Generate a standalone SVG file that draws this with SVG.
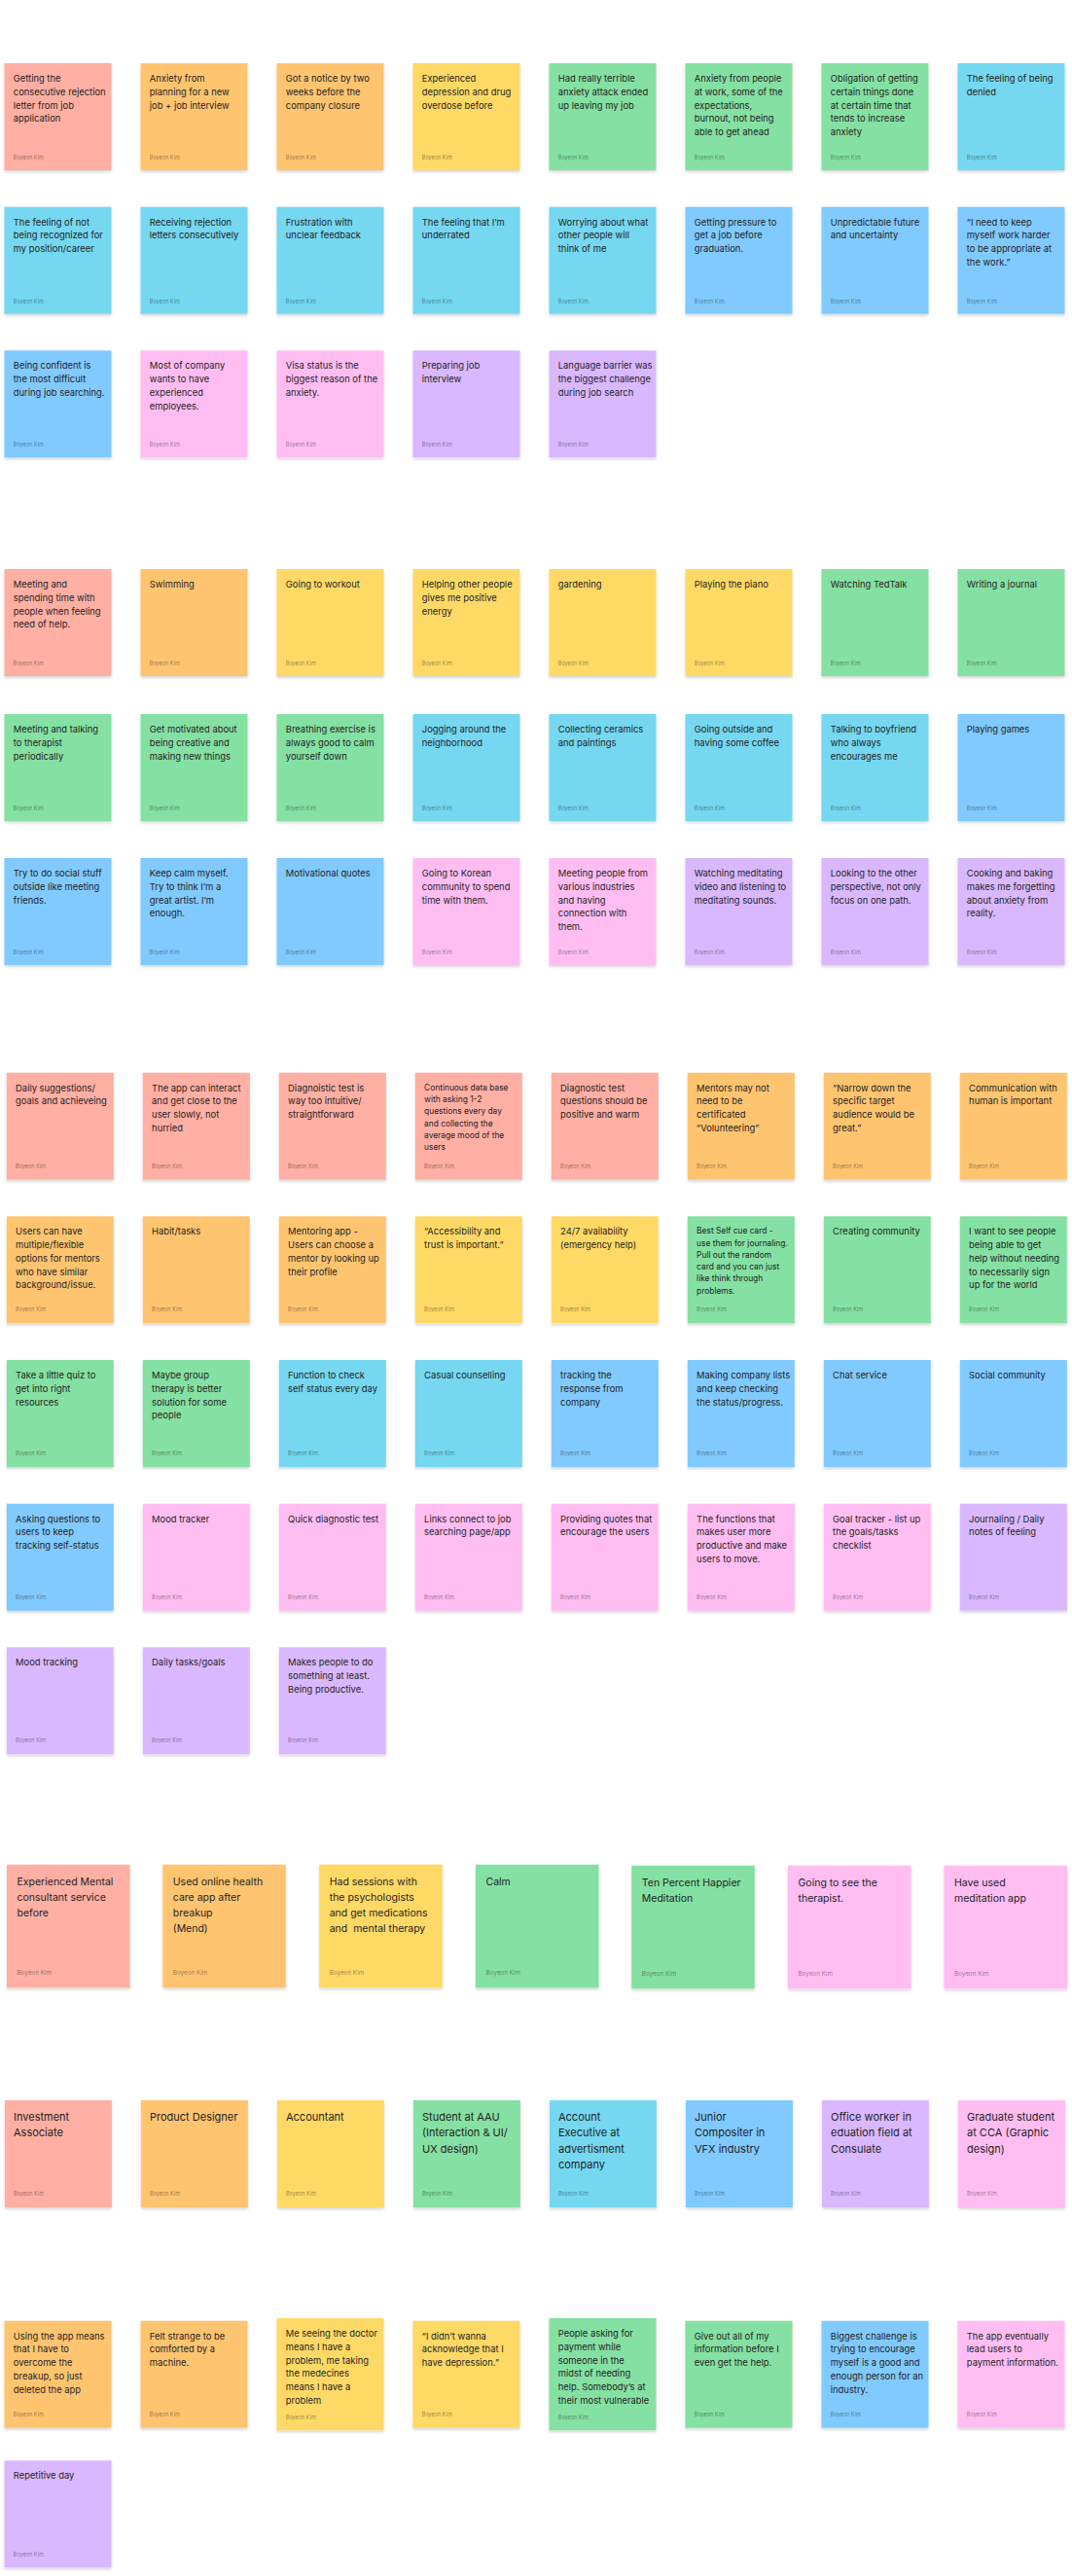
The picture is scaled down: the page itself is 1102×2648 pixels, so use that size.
<svg xmlns="http://www.w3.org/2000/svg" width="1102" height="2648" viewBox="0 0 1102 2648">
<defs>
<filter id="sh" x="-10%" y="-10%" width="120%" height="125%">
<feDropShadow dx="0" dy="2" stdDeviation="1.8" flood-color="#000" flood-opacity="0.16"/>
</filter>
</defs>
<style>
rect{filter:url(#sh)}
.r{fill:#FFAFA3}.o{fill:#FFC470}.y{fill:#FFD966}.g{fill:#85E0A3}.c{fill:#75D7F0}.b{fill:#80CAFF}.v{fill:#D9B8FF}.p{fill:#FFBDF2}
.t{font-family:Inter,"Liberation Sans",sans-serif;font-size:9.4px;fill:#1e1e1e}
.ts{font-family:Inter,"Liberation Sans",sans-serif;font-size:8.4px;fill:#1e1e1e}
.tl{font-family:Inter,"Liberation Sans",sans-serif;font-size:10.5px;fill:#1e1e1e}
.tm{font-family:Inter,"Liberation Sans",sans-serif;font-size:11px;fill:#1e1e1e}
.a{font-family:Inter,"Liberation Sans",sans-serif;font-size:5.5px;fill:#000;fill-opacity:.45}
.al{font-family:Inter,"Liberation Sans",sans-serif;font-size:6.3px;fill:#000;fill-opacity:.45}
</style>
<rect x="0" y="0" width="1102" height="2648" fill="#fff" style="filter:none"/>

<!-- Section 1 -->
<g id="s1-n01" transform="translate(4.5 65)"><rect class="r" width="110" height="110"/><text class="t" y="19"><tspan x="9.3">Getting the</tspan><tspan x="9.3" dy="13.8">consecutive rejection</tspan><tspan x="9.3" dy="13.8">letter from job</tspan><tspan x="9.3" dy="13.8">application</tspan></text><text class="a" x="9.3" y="99">Boyeon Kim</text></g>
<g id="s1-n02" transform="translate(144.5 65)"><rect class="o" width="110" height="110"/><text class="t" y="19"><tspan x="9.3">Anxiety from</tspan><tspan x="9.3" dy="13.8">planning for a new</tspan><tspan x="9.3" dy="13.8">job + job interview</tspan></text><text class="a" x="9.3" y="99">Boyeon Kim</text></g>
<g id="s1-n03" transform="translate(284.5 65)"><rect class="o" width="110" height="110"/><text class="t" y="19"><tspan x="9.3">Got a notice by two</tspan><tspan x="9.3" dy="13.8">weeks before the</tspan><tspan x="9.3" dy="13.8">company closure</tspan></text><text class="a" x="9.3" y="99">Boyeon Kim</text></g>
<g id="s1-n04" transform="translate(424.5 65)"><rect class="y" width="110" height="110"/><text class="t" y="19"><tspan x="9.3">Experienced</tspan><tspan x="9.3" dy="13.8">depression and drug</tspan><tspan x="9.3" dy="13.8">overdose before</tspan></text><text class="a" x="9.3" y="99">Boyeon Kim</text></g>
<g id="s1-n05" transform="translate(564.5 65)"><rect class="g" width="110" height="110"/><text class="t" y="19"><tspan x="9.3">Had really terrible</tspan><tspan x="9.3" dy="13.8">anxiety attack ended</tspan><tspan x="9.3" dy="13.8">up leaving my job</tspan></text><text class="a" x="9.3" y="99">Boyeon Kim</text></g>
<g id="s1-n06" transform="translate(704.5 65)"><rect class="g" width="110" height="110"/><text class="t" y="19"><tspan x="9.3">Anxiety from people</tspan><tspan x="9.3" dy="13.8">at work, some of the</tspan><tspan x="9.3" dy="13.8">expectations,</tspan><tspan x="9.3" dy="13.8">burnout, not being</tspan><tspan x="9.3" dy="13.8">able to get ahead</tspan></text><text class="a" x="9.3" y="99">Boyeon Kim</text></g>
<g id="s1-n07" transform="translate(844.5 65)"><rect class="g" width="110" height="110"/><text class="t" y="19"><tspan x="9.3">Obligation of getting</tspan><tspan x="9.3" dy="13.8">certain things done</tspan><tspan x="9.3" dy="13.8">at certain time that</tspan><tspan x="9.3" dy="13.8">tends to increase</tspan><tspan x="9.3" dy="13.8">anxiety</tspan></text><text class="a" x="9.3" y="99">Boyeon Kim</text></g>
<g id="s1-n08" transform="translate(984.5 65)"><rect class="c" width="110" height="110"/><text class="t" y="19"><tspan x="9.3">The feeling of being</tspan><tspan x="9.3" dy="13.8">denied</tspan></text><text class="a" x="9.3" y="99">Boyeon Kim</text></g>

<g id="s1-n09" transform="translate(4.5 212.7)"><rect class="c" width="110" height="110"/><text class="t" y="19"><tspan x="9.3">The feeling of not</tspan><tspan x="9.3" dy="13.8">being recognized for</tspan><tspan x="9.3" dy="13.8">my position/career</tspan></text><text class="a" x="9.3" y="99">Boyeon Kim</text></g>
<g id="s1-n10" transform="translate(144.5 212.7)"><rect class="c" width="110" height="110"/><text class="t" y="19"><tspan x="9.3">Receiving rejection</tspan><tspan x="9.3" dy="13.8">letters consecutively</tspan></text><text class="a" x="9.3" y="99">Boyeon Kim</text></g>
<g id="s1-n11" transform="translate(284.5 212.7)"><rect class="c" width="110" height="110"/><text class="t" y="19"><tspan x="9.3">Frustration with</tspan><tspan x="9.3" dy="13.8">unclear feedback</tspan></text><text class="a" x="9.3" y="99">Boyeon Kim</text></g>
<g id="s1-n12" transform="translate(424.5 212.7)"><rect class="c" width="110" height="110"/><text class="t" y="19"><tspan x="9.3">The feeling that I’m</tspan><tspan x="9.3" dy="13.8">underrated</tspan></text><text class="a" x="9.3" y="99">Boyeon Kim</text></g>
<g id="s1-n13" transform="translate(564.5 212.7)"><rect class="c" width="110" height="110"/><text class="t" y="19"><tspan x="9.3">Worrying about what</tspan><tspan x="9.3" dy="13.8">other people will</tspan><tspan x="9.3" dy="13.8">think of me</tspan></text><text class="a" x="9.3" y="99">Boyeon Kim</text></g>
<g id="s1-n14" transform="translate(704.5 212.7)"><rect class="b" width="110" height="110"/><text class="t" y="19"><tspan x="9.3">Getting pressure to</tspan><tspan x="9.3" dy="13.8">get a job before</tspan><tspan x="9.3" dy="13.8">graduation.</tspan></text><text class="a" x="9.3" y="99">Boyeon Kim</text></g>
<g id="s1-n15" transform="translate(844.5 212.7)"><rect class="b" width="110" height="110"/><text class="t" y="19"><tspan x="9.3">Unpredictable future</tspan><tspan x="9.3" dy="13.8">and uncertainty</tspan></text><text class="a" x="9.3" y="99">Boyeon Kim</text></g>
<g id="s1-n16" transform="translate(984.5 212.7)"><rect class="b" width="110" height="110"/><text class="t" y="19"><tspan x="9.3">“I need to keep</tspan><tspan x="9.3" dy="13.8">myself work harder</tspan><tspan x="9.3" dy="13.8">to be appropriate at</tspan><tspan x="9.3" dy="13.8">the work.”</tspan></text><text class="a" x="9.3" y="99">Boyeon Kim</text></g>

<g id="s1-n17" transform="translate(4.5 360.3)"><rect class="b" width="110" height="110"/><text class="t" y="19"><tspan x="9.3">Being confident is</tspan><tspan x="9.3" dy="13.8">the most difficult</tspan><tspan x="9.3" dy="13.8">during job searching.</tspan></text><text class="a" x="9.3" y="99">Boyeon Kim</text></g>
<g id="s1-n18" transform="translate(144.5 360.3)"><rect class="p" width="110" height="110"/><text class="t" y="19"><tspan x="9.3">Most of company</tspan><tspan x="9.3" dy="13.8">wants to have</tspan><tspan x="9.3" dy="13.8">experienced</tspan><tspan x="9.3" dy="13.8">employees.</tspan></text><text class="a" x="9.3" y="99">Boyeon Kim</text></g>
<g id="s1-n19" transform="translate(284.5 360.3)"><rect class="p" width="110" height="110"/><text class="t" y="19"><tspan x="9.3">Visa status is the</tspan><tspan x="9.3" dy="13.8">biggest reason of the</tspan><tspan x="9.3" dy="13.8">anxiety.</tspan></text><text class="a" x="9.3" y="99">Boyeon Kim</text></g>
<g id="s1-n20" transform="translate(424.5 360.3)"><rect class="v" width="110" height="110"/><text class="t" y="19"><tspan x="9.3">Preparing job</tspan><tspan x="9.3" dy="13.8">interview</tspan></text><text class="a" x="9.3" y="99">Boyeon Kim</text></g>
<g id="s1-n21" transform="translate(564.5 360.3)"><rect class="v" width="110" height="110"/><text class="t" y="19"><tspan x="9.3">Language barrier was</tspan><tspan x="9.3" dy="13.8">the biggest challenge</tspan><tspan x="9.3" dy="13.8">during job search</tspan></text><text class="a" x="9.3" y="99">Boyeon Kim</text></g>

<!-- Section 2 -->
<g id="s2-n01" transform="translate(4.5 585)"><rect class="r" width="110" height="110"/><text class="t" y="19"><tspan x="9.3">Meeting and</tspan><tspan x="9.3" dy="13.8">spending time with</tspan><tspan x="9.3" dy="13.8">people when feeling</tspan><tspan x="9.3" dy="13.8">need of help.</tspan></text><text class="a" x="9.3" y="99">Boyeon Kim</text></g>
<g id="s2-n02" transform="translate(144.5 585)"><rect class="o" width="110" height="110"/><text class="t" y="19"><tspan x="9.3">Swimming</tspan></text><text class="a" x="9.3" y="99">Boyeon Kim</text></g>
<g id="s2-n03" transform="translate(284.5 585)"><rect class="y" width="110" height="110"/><text class="t" y="19"><tspan x="9.3">Going to workout</tspan></text><text class="a" x="9.3" y="99">Boyeon Kim</text></g>
<g id="s2-n04" transform="translate(424.5 585)"><rect class="y" width="110" height="110"/><text class="t" y="19"><tspan x="9.3">Helping other people</tspan><tspan x="9.3" dy="13.8">gives me positive</tspan><tspan x="9.3" dy="13.8">energy</tspan></text><text class="a" x="9.3" y="99">Boyeon Kim</text></g>
<g id="s2-n05" transform="translate(564.5 585)"><rect class="y" width="110" height="110"/><text class="t" y="19"><tspan x="9.3">gardening</tspan></text><text class="a" x="9.3" y="99">Boyeon Kim</text></g>
<g id="s2-n06" transform="translate(704.5 585)"><rect class="y" width="110" height="110"/><text class="t" y="19"><tspan x="9.3">Playing the piano</tspan></text><text class="a" x="9.3" y="99">Boyeon Kim</text></g>
<g id="s2-n07" transform="translate(844.5 585)"><rect class="g" width="110" height="110"/><text class="t" y="19"><tspan x="9.3">Watching TedTalk</tspan></text><text class="a" x="9.3" y="99">Boyeon Kim</text></g>
<g id="s2-n08" transform="translate(984.5 585)"><rect class="g" width="110" height="110"/><text class="t" y="19"><tspan x="9.3">Writing a journal</tspan></text><text class="a" x="9.3" y="99">Boyeon Kim</text></g>

<g id="s2-n09" transform="translate(4.5 734)"><rect class="g" width="110" height="110"/><text class="t" y="19"><tspan x="9.3">Meeting and talking</tspan><tspan x="9.3" dy="13.8">to therapist</tspan><tspan x="9.3" dy="13.8">periodically</tspan></text><text class="a" x="9.3" y="99">Boyeon Kim</text></g>
<g id="s2-n10" transform="translate(144.5 734)"><rect class="g" width="110" height="110"/><text class="t" y="19"><tspan x="9.3">Get motivated about</tspan><tspan x="9.3" dy="13.8">being creative and</tspan><tspan x="9.3" dy="13.8">making new things</tspan></text><text class="a" x="9.3" y="99">Boyeon Kim</text></g>
<g id="s2-n11" transform="translate(284.5 734)"><rect class="g" width="110" height="110"/><text class="t" y="19"><tspan x="9.3">Breathing exercise is</tspan><tspan x="9.3" dy="13.8">always good to calm</tspan><tspan x="9.3" dy="13.8">yourself down</tspan></text><text class="a" x="9.3" y="99">Boyeon Kim</text></g>
<g id="s2-n12" transform="translate(424.5 734)"><rect class="c" width="110" height="110"/><text class="t" y="19"><tspan x="9.3">Jogging around the</tspan><tspan x="9.3" dy="13.8">neighborhood</tspan></text><text class="a" x="9.3" y="99">Boyeon Kim</text></g>
<g id="s2-n13" transform="translate(564.5 734)"><rect class="c" width="110" height="110"/><text class="t" y="19"><tspan x="9.3">Collecting ceramics</tspan><tspan x="9.3" dy="13.8">and paintings</tspan></text><text class="a" x="9.3" y="99">Boyeon Kim</text></g>
<g id="s2-n14" transform="translate(704.5 734)"><rect class="c" width="110" height="110"/><text class="t" y="19"><tspan x="9.3">Going outside and</tspan><tspan x="9.3" dy="13.8">having some coffee</tspan></text><text class="a" x="9.3" y="99">Boyeon Kim</text></g>
<g id="s2-n15" transform="translate(844.5 734)"><rect class="c" width="110" height="110"/><text class="t" y="19"><tspan x="9.3">Talking to boyfriend</tspan><tspan x="9.3" dy="13.8">who always</tspan><tspan x="9.3" dy="13.8">encourages me</tspan></text><text class="a" x="9.3" y="99">Boyeon Kim</text></g>
<g id="s2-n16" transform="translate(984.5 734)"><rect class="b" width="110" height="110"/><text class="t" y="19"><tspan x="9.3">Playing games</tspan></text><text class="a" x="9.3" y="99">Boyeon Kim</text></g>

<g id="s2-n17" transform="translate(4.5 882)"><rect class="b" width="110" height="110"/><text class="t" y="19"><tspan x="9.3">Try to do social stuff</tspan><tspan x="9.3" dy="13.8">outside like meeting</tspan><tspan x="9.3" dy="13.8">friends.</tspan></text><text class="a" x="9.3" y="99">Boyeon Kim</text></g>
<g id="s2-n18" transform="translate(144.5 882)"><rect class="b" width="110" height="110"/><text class="t" y="19"><tspan x="9.3">Keep calm myself.</tspan><tspan x="9.3" dy="13.8">Try to think I’m a</tspan><tspan x="9.3" dy="13.8">great artist. I’m</tspan><tspan x="9.3" dy="13.8">enough.</tspan></text><text class="a" x="9.3" y="99">Boyeon Kim</text></g>
<g id="s2-n19" transform="translate(284.5 882)"><rect class="b" width="110" height="110"/><text class="t" y="19"><tspan x="9.3">Motivational quotes</tspan></text><text class="a" x="9.3" y="99">Boyeon Kim</text></g>
<g id="s2-n20" transform="translate(424.5 882)"><rect class="p" width="110" height="110"/><text class="t" y="19"><tspan x="9.3">Going to Korean</tspan><tspan x="9.3" dy="13.8">community to spend</tspan><tspan x="9.3" dy="13.8">time with them.</tspan></text><text class="a" x="9.3" y="99">Boyeon Kim</text></g>
<g id="s2-n21" transform="translate(564.5 882)"><rect class="p" width="110" height="110"/><text class="t" y="19"><tspan x="9.3">Meeting people from</tspan><tspan x="9.3" dy="13.8">various industries</tspan><tspan x="9.3" dy="13.8">and having</tspan><tspan x="9.3" dy="13.8">connection with</tspan><tspan x="9.3" dy="13.8">them.</tspan></text><text class="a" x="9.3" y="99">Boyeon Kim</text></g>
<g id="s2-n22" transform="translate(704.5 882)"><rect class="v" width="110" height="110"/><text class="t" y="19"><tspan x="9.3">Watching meditating</tspan><tspan x="9.3" dy="13.8">video and listening to</tspan><tspan x="9.3" dy="13.8">meditating sounds.</tspan></text><text class="a" x="9.3" y="99">Boyeon Kim</text></g>
<g id="s2-n23" transform="translate(844.5 882)"><rect class="v" width="110" height="110"/><text class="t" y="19"><tspan x="9.3">Looking to the other</tspan><tspan x="9.3" dy="13.8">perspective, not only</tspan><tspan x="9.3" dy="13.8">focus on one path.</tspan></text><text class="a" x="9.3" y="99">Boyeon Kim</text></g>
<g id="s2-n24" transform="translate(984.5 882)"><rect class="v" width="110" height="110"/><text class="t" y="19"><tspan x="9.3">Cooking and baking</tspan><tspan x="9.3" dy="13.8">makes me forgetting</tspan><tspan x="9.3" dy="13.8">about anxiety from</tspan><tspan x="9.3" dy="13.8">reality.</tspan></text><text class="a" x="9.3" y="99">Boyeon Kim</text></g>

<!-- Section 3 -->
<g id="s3-n01" transform="translate(6.8 1102.7)"><rect class="r" width="110" height="110"/><text class="t" y="19"><tspan x="9.3">Daily suggestions/</tspan><tspan x="9.3" dy="13.8">goals and achieveing</tspan></text><text class="a" x="9.3" y="98">Boyeon Kim</text></g>
<g id="s3-n02" transform="translate(146.8 1102.7)"><rect class="r" width="110" height="110"/><text class="t" y="19"><tspan x="9.3">The app can interact</tspan><tspan x="9.3" dy="13.8">and get close to the</tspan><tspan x="9.3" dy="13.8">user slowly, not</tspan><tspan x="9.3" dy="13.8">hurried</tspan></text><text class="a" x="9.3" y="98">Boyeon Kim</text></g>
<g id="s3-n03" transform="translate(286.8 1102.7)"><rect class="r" width="110" height="110"/><text class="t" y="19"><tspan x="9.3">Diagnoistic test is</tspan><tspan x="9.3" dy="13.8">way too intuitive/</tspan><tspan x="9.3" dy="13.8">straightforward</tspan></text><text class="a" x="9.3" y="98">Boyeon Kim</text></g>
<g id="s3-n04" transform="translate(426.8 1102.7)"><rect class="r" width="110" height="110"/><text class="ts" y="18"><tspan x="9.3">Continuous data base</tspan><tspan x="9.3" dy="12.3">with asking 1-2</tspan><tspan x="9.3" dy="12.3">questions every day</tspan><tspan x="9.3" dy="12.3">and collecting the</tspan><tspan x="9.3" dy="12.3">average mood of the</tspan><tspan x="9.3" dy="12.3">users</tspan></text><text class="a" x="9.3" y="98">Boyeon Kim</text></g>
<g id="s3-n05" transform="translate(566.8 1102.7)"><rect class="r" width="110" height="110"/><text class="t" y="19"><tspan x="9.3">Diagnostic test</tspan><tspan x="9.3" dy="13.8">questions should be</tspan><tspan x="9.3" dy="13.8">positive and warm</tspan></text><text class="a" x="9.3" y="98">Boyeon Kim</text></g>
<g id="s3-n06" transform="translate(706.8 1102.7)"><rect class="o" width="110" height="110"/><text class="t" y="19"><tspan x="9.3">Mentors may not</tspan><tspan x="9.3" dy="13.8">need to be</tspan><tspan x="9.3" dy="13.8">certificated</tspan><tspan x="9.3" dy="13.8">“Volunteering”</tspan></text><text class="a" x="9.3" y="98">Boyeon Kim</text></g>
<g id="s3-n07" transform="translate(846.8 1102.7)"><rect class="o" width="110" height="110"/><text class="t" y="19"><tspan x="9.3">“Narrow down the</tspan><tspan x="9.3" dy="13.8">specific target</tspan><tspan x="9.3" dy="13.8">audience would be</tspan><tspan x="9.3" dy="13.8">great.”</tspan></text><text class="a" x="9.3" y="98">Boyeon Kim</text></g>
<g id="s3-n08" transform="translate(986.8 1102.7)"><rect class="o" width="110" height="110"/><text class="t" y="19"><tspan x="9.3">Communication with</tspan><tspan x="9.3" dy="13.8">human is important</tspan></text><text class="a" x="9.3" y="98">Boyeon Kim</text></g>

<g id="s3-n09" transform="translate(6.8 1250.3)"><rect class="o" width="110" height="110"/><text class="t" y="19"><tspan x="9.3">Users can have</tspan><tspan x="9.3" dy="13.8">multiple/flexible</tspan><tspan x="9.3" dy="13.8">options for mentors</tspan><tspan x="9.3" dy="13.8">who have similar</tspan><tspan x="9.3" dy="13.8">background/issue.</tspan></text><text class="a" x="9.3" y="98">Boyeon Kim</text></g>
<g id="s3-n10" transform="translate(146.8 1250.3)"><rect class="o" width="110" height="110"/><text class="t" y="19"><tspan x="9.3">Habit/tasks</tspan></text><text class="a" x="9.3" y="98">Boyeon Kim</text></g>
<g id="s3-n11" transform="translate(286.8 1250.3)"><rect class="o" width="110" height="110"/><text class="t" y="19"><tspan x="9.3">Mentoring app -</tspan><tspan x="9.3" dy="13.8">Users can choose a</tspan><tspan x="9.3" dy="13.8">mentor by looking up</tspan><tspan x="9.3" dy="13.8">their profile</tspan></text><text class="a" x="9.3" y="98">Boyeon Kim</text></g>
<g id="s3-n12" transform="translate(426.8 1250.3)"><rect class="y" width="110" height="110"/><text class="t" y="19"><tspan x="9.3">“Accessibility and</tspan><tspan x="9.3" dy="13.8">trust is important.”</tspan></text><text class="a" x="9.3" y="98">Boyeon Kim</text></g>
<g id="s3-n13" transform="translate(566.8 1250.3)"><rect class="y" width="110" height="110"/><text class="t" y="19"><tspan x="9.3">24/7 availability</tspan><tspan x="9.3" dy="13.8">(emergency help)</tspan></text><text class="a" x="9.3" y="98">Boyeon Kim</text></g>
<g id="s3-n14" transform="translate(706.8 1250.3)"><rect class="g" width="110" height="110"/><text class="ts" y="18"><tspan x="9.3">Best Self cue card -</tspan><tspan x="9.3" dy="12.3">use them for journaling.</tspan><tspan x="9.3" dy="12.3">Pull out the random</tspan><tspan x="9.3" dy="12.3">card and you can just</tspan><tspan x="9.3" dy="12.3">like think through</tspan><tspan x="9.3" dy="12.3">problems.</tspan></text><text class="a" x="9.3" y="98">Boyeon Kim</text></g>
<g id="s3-n15" transform="translate(846.8 1250.3)"><rect class="g" width="110" height="110"/><text class="t" y="19"><tspan x="9.3">Creating community</tspan></text><text class="a" x="9.3" y="98">Boyeon Kim</text></g>
<g id="s3-n16" transform="translate(986.8 1250.3)"><rect class="g" width="110" height="110"/><text class="t" y="19"><tspan x="9.3">I want to see people</tspan><tspan x="9.3" dy="13.8">being able to get</tspan><tspan x="9.3" dy="13.8">help without needing</tspan><tspan x="9.3" dy="13.8">to necessarily sign</tspan><tspan x="9.3" dy="13.8">up for the world</tspan></text><text class="a" x="9.3" y="98">Boyeon Kim</text></g>

<g id="s3-n17" transform="translate(6.8 1398)"><rect class="g" width="110" height="110"/><text class="t" y="19"><tspan x="9.3">Take a little quiz to</tspan><tspan x="9.3" dy="13.8">get into right</tspan><tspan x="9.3" dy="13.8">resources</tspan></text><text class="a" x="9.3" y="98">Boyeon Kim</text></g>
<g id="s3-n18" transform="translate(146.8 1398)"><rect class="g" width="110" height="110"/><text class="t" y="19"><tspan x="9.3">Maybe group</tspan><tspan x="9.3" dy="13.8">therapy is better</tspan><tspan x="9.3" dy="13.8">solution for some</tspan><tspan x="9.3" dy="13.8">people</tspan></text><text class="a" x="9.3" y="98">Boyeon Kim</text></g>
<g id="s3-n19" transform="translate(286.8 1398)"><rect class="c" width="110" height="110"/><text class="t" y="19"><tspan x="9.3">Function to check</tspan><tspan x="9.3" dy="13.8">self status every day</tspan></text><text class="a" x="9.3" y="98">Boyeon Kim</text></g>
<g id="s3-n20" transform="translate(426.8 1398)"><rect class="c" width="110" height="110"/><text class="t" y="19"><tspan x="9.3">Casual counselling</tspan></text><text class="a" x="9.3" y="98">Boyeon Kim</text></g>
<g id="s3-n21" transform="translate(566.8 1398)"><rect class="b" width="110" height="110"/><text class="t" y="19"><tspan x="9.3">tracking the</tspan><tspan x="9.3" dy="13.8">response from</tspan><tspan x="9.3" dy="13.8">company</tspan></text><text class="a" x="9.3" y="98">Boyeon Kim</text></g>
<g id="s3-n22" transform="translate(706.8 1398)"><rect class="b" width="110" height="110"/><text class="t" y="19"><tspan x="9.3">Making company lists</tspan><tspan x="9.3" dy="13.8">and keep checking</tspan><tspan x="9.3" dy="13.8">the status/progress.</tspan></text><text class="a" x="9.3" y="98">Boyeon Kim</text></g>
<g id="s3-n23" transform="translate(846.8 1398)"><rect class="b" width="110" height="110"/><text class="t" y="19"><tspan x="9.3">Chat service</tspan></text><text class="a" x="9.3" y="98">Boyeon Kim</text></g>
<g id="s3-n24" transform="translate(986.8 1398)"><rect class="b" width="110" height="110"/><text class="t" y="19"><tspan x="9.3">Social community</tspan></text><text class="a" x="9.3" y="98">Boyeon Kim</text></g>

<g id="s3-n25" transform="translate(6.8 1545.7)"><rect class="b" width="110" height="110"/><text class="t" y="19"><tspan x="9.3">Asking questions to</tspan><tspan x="9.3" dy="13.8">users to keep</tspan><tspan x="9.3" dy="13.8">tracking self-status</tspan></text><text class="a" x="9.3" y="98">Boyeon Kim</text></g>
<g id="s3-n26" transform="translate(146.8 1545.7)"><rect class="p" width="110" height="110"/><text class="t" y="19"><tspan x="9.3">Mood tracker</tspan></text><text class="a" x="9.3" y="98">Boyeon Kim</text></g>
<g id="s3-n27" transform="translate(286.8 1545.7)"><rect class="p" width="110" height="110"/><text class="t" y="19"><tspan x="9.3">Quick diagnostic test</tspan></text><text class="a" x="9.3" y="98">Boyeon Kim</text></g>
<g id="s3-n28" transform="translate(426.8 1545.7)"><rect class="p" width="110" height="110"/><text class="t" y="19"><tspan x="9.3">Links connect to job</tspan><tspan x="9.3" dy="13.8">searching page/app</tspan></text><text class="a" x="9.3" y="98">Boyeon Kim</text></g>
<g id="s3-n29" transform="translate(566.8 1545.7)"><rect class="p" width="110" height="110"/><text class="t" y="19"><tspan x="9.3">Providing quotes that</tspan><tspan x="9.3" dy="13.8">encourage the users</tspan></text><text class="a" x="9.3" y="98">Boyeon Kim</text></g>
<g id="s3-n30" transform="translate(706.8 1545.7)"><rect class="p" width="110" height="110"/><text class="t" y="19"><tspan x="9.3">The functions that</tspan><tspan x="9.3" dy="13.8">makes user more</tspan><tspan x="9.3" dy="13.8">productive and make</tspan><tspan x="9.3" dy="13.8">users to move.</tspan></text><text class="a" x="9.3" y="98">Boyeon Kim</text></g>
<g id="s3-n31" transform="translate(846.8 1545.7)"><rect class="p" width="110" height="110"/><text class="t" y="19"><tspan x="9.3">Goal tracker - list up</tspan><tspan x="9.3" dy="13.8">the goals/tasks</tspan><tspan x="9.3" dy="13.8">checklist</tspan></text><text class="a" x="9.3" y="98">Boyeon Kim</text></g>
<g id="s3-n32" transform="translate(986.8 1545.7)"><rect class="v" width="110" height="110"/><text class="t" y="19"><tspan x="9.3">Journaling / Daily</tspan><tspan x="9.3" dy="13.8">notes of feeling</tspan></text><text class="a" x="9.3" y="98">Boyeon Kim</text></g>

<g id="s3-n33" transform="translate(6.8 1693.3)"><rect class="v" width="110" height="110"/><text class="t" y="19"><tspan x="9.3">Mood tracking</tspan></text><text class="a" x="9.3" y="98">Boyeon Kim</text></g>
<g id="s3-n34" transform="translate(146.8 1693.3)"><rect class="v" width="110" height="110"/><text class="t" y="19"><tspan x="9.3">Daily tasks/goals</tspan></text><text class="a" x="9.3" y="98">Boyeon Kim</text></g>
<g id="s3-n35" transform="translate(286.8 1693.3)"><rect class="v" width="110" height="110"/><text class="t" y="19"><tspan x="9.3">Makes people to do</tspan><tspan x="9.3" dy="13.8">something at least.</tspan><tspan x="9.3" dy="13.8">Being productive.</tspan></text><text class="a" x="9.3" y="98">Boyeon Kim</text></g>

<!-- Section 4 -->
<g id="s4-n01" transform="translate(7 1916.7)"><rect class="r" width="126.5" height="126.6"/><text class="tl" y="21.6"><tspan x="10.5">Experienced Mental</tspan><tspan x="10.5" dy="15.8">consultant service</tspan><tspan x="10.5" dy="15.8">before</tspan></text><text class="al" x="10.5" y="113.5">Boyeon Kim</text></g>
<g id="s4-n02" transform="translate(167.3 1916.7)"><rect class="o" width="126.5" height="126.6"/><text class="tl" y="21.6"><tspan x="10.5">Used online health</tspan><tspan x="10.5" dy="15.8">care app after</tspan><tspan x="10.5" dy="15.8">breakup</tspan><tspan x="10.5" dy="15.8">(Mend)</tspan></text><text class="al" x="10.5" y="113.5">Boyeon Kim</text></g>
<g id="s4-n03" transform="translate(328.2 1916.7)"><rect class="y" width="126.5" height="126.6"/><text class="tl" y="21.6"><tspan x="10.5">Had sessions with</tspan><tspan x="10.5" dy="15.8">the psychologists</tspan><tspan x="10.5" dy="15.8">and get medications</tspan><tspan x="10.5" dy="15.8" xml:space="preserve">and  mental therapy</tspan></text><text class="al" x="10.5" y="113.5">Boyeon Kim</text></g>
<g id="s4-n04" transform="translate(489 1916.7)"><rect class="g" width="126.5" height="126.6"/><text class="tl" y="21.6"><tspan x="10.5">Calm</tspan></text><text class="al" x="10.5" y="113.5">Boyeon Kim</text></g>
<g id="s4-n05" transform="translate(649.3 1917.7)"><rect class="g" width="126.5" height="126.6"/><text class="tl" y="21.6"><tspan x="10.5">Ten Percent Happier</tspan><tspan x="10.5" dy="15.8">Meditation</tspan></text><text class="al" x="10.5" y="113.5">Boyeon Kim</text></g>
<g id="s4-n06" transform="translate(810 1917.7)"><rect class="p" width="126.5" height="126.6"/><text class="tl" y="21.6"><tspan x="10.5">Going to see the</tspan><tspan x="10.5" dy="15.8">therapist.</tspan></text><text class="al" x="10.5" y="113.5">Boyeon Kim</text></g>
<g id="s4-n07" transform="translate(970.5 1917.7)"><rect class="p" width="126.5" height="126.6"/><text class="tl" y="21.6"><tspan x="10.5">Have used</tspan><tspan x="10.5" dy="15.8">meditation app</tspan></text><text class="al" x="10.5" y="113.5">Boyeon Kim</text></g>

<!-- Section 5 -->
<g id="s5-n01" transform="translate(4.9 2159)"><rect class="r" width="110" height="110"/><text class="tm" y="21"><tspan x="9.1">Investment</tspan><tspan x="9.1" dy="16.3">Associate</tspan></text><text class="a" x="9.1" y="98.3">Boyeon Kim</text></g>
<g id="s5-n02" transform="translate(144.9 2159)"><rect class="o" width="110" height="110"/><text class="tm" y="21"><tspan x="9.1">Product Designer</tspan></text><text class="a" x="9.1" y="98.3">Boyeon Kim</text></g>
<g id="s5-n03" transform="translate(284.9 2159)"><rect class="y" width="110" height="110"/><text class="tm" y="21"><tspan x="9.1">Accountant</tspan></text><text class="a" x="9.1" y="98.3">Boyeon Kim</text></g>
<g id="s5-n04" transform="translate(424.9 2159)"><rect class="g" width="110" height="110"/><text class="tm" y="21"><tspan x="9.1">Student at AAU</tspan><tspan x="9.1" dy="16.3">(Interaction &amp; UI/</tspan><tspan x="9.1" dy="16.3">UX design)</tspan></text><text class="a" x="9.1" y="98.3">Boyeon Kim</text></g>
<g id="s5-n05" transform="translate(564.9 2159)"><rect class="c" width="110" height="110"/><text class="tm" y="21"><tspan x="9.1">Account</tspan><tspan x="9.1" dy="16.3">Executive at</tspan><tspan x="9.1" dy="16.3">advertisment</tspan><tspan x="9.1" dy="16.3">company</tspan></text><text class="a" x="9.1" y="98.3">Boyeon Kim</text></g>
<g id="s5-n06" transform="translate(704.9 2159)"><rect class="b" width="110" height="110"/><text class="tm" y="21"><tspan x="9.1">Junior</tspan><tspan x="9.1" dy="16.3">Compositer in</tspan><tspan x="9.1" dy="16.3">VFX industry</tspan></text><text class="a" x="9.1" y="98.3">Boyeon Kim</text></g>
<g id="s5-n07" transform="translate(844.9 2159)"><rect class="v" width="110" height="110"/><text class="tm" y="21"><tspan x="9.1">Office worker in</tspan><tspan x="9.1" dy="16.3">eduation field at</tspan><tspan x="9.1" dy="16.3">Consulate</tspan></text><text class="a" x="9.1" y="98.3">Boyeon Kim</text></g>
<g id="s5-n08" transform="translate(984.9 2159)"><rect class="p" width="110" height="110"/><text class="tm" y="21"><tspan x="9.1">Graduate student</tspan><tspan x="9.1" dy="16.3">at CCA (Graphic</tspan><tspan x="9.1" dy="16.3">design)</tspan></text><text class="a" x="9.1" y="98.3">Boyeon Kim</text></g>

<!-- Section 6 -->
<g id="s6-n01" transform="translate(4.5 2385.7)"><rect class="o" width="110" height="110"/><text class="t" y="19"><tspan x="9.3">Using the app means</tspan><tspan x="9.3" dy="13.8">that I have to</tspan><tspan x="9.3" dy="13.8">overcome the</tspan><tspan x="9.3" dy="13.8">breakup, so just</tspan><tspan x="9.3" dy="13.8">deleted the app</tspan></text><text class="a" x="9.3" y="98.6">Boyeon Kim</text></g>
<g id="s6-n02" transform="translate(144.5 2385.7)"><rect class="o" width="110" height="110"/><text class="t" y="19"><tspan x="9.3">Felt strange to be</tspan><tspan x="9.3" dy="13.8">comforted by a</tspan><tspan x="9.3" dy="13.8">machine.</tspan></text><text class="a" x="9.3" y="98.6">Boyeon Kim</text></g>
<g id="s6-n03" transform="translate(284.5 2383)"><rect class="y" width="110" height="115.3"/><text class="t" y="19"><tspan x="9.3">Me seeing the doctor</tspan><tspan x="9.3" dy="13.8">means I have a</tspan><tspan x="9.3" dy="13.8">problem, me taking</tspan><tspan x="9.3" dy="13.8">the medecines</tspan><tspan x="9.3" dy="13.8">means I have a</tspan><tspan x="9.3" dy="13.8">problem</tspan></text><text class="a" x="9.3" y="104">Boyeon Kim</text></g>
<g id="s6-n04" transform="translate(424.5 2385.7)"><rect class="y" width="110" height="110"/><text class="t" y="19"><tspan x="9.3">“I didn’t wanna</tspan><tspan x="9.3" dy="13.8">acknowledge that I</tspan><tspan x="9.3" dy="13.8">have depression.”</tspan></text><text class="a" x="9.3" y="98.6">Boyeon Kim</text></g>
<g id="s6-n05" transform="translate(564.5 2383)"><rect class="g" width="110" height="115.3"/><text class="t" y="19"><tspan x="9.3">People asking for</tspan><tspan x="9.3" dy="13.8">payment while</tspan><tspan x="9.3" dy="13.8">someone in the</tspan><tspan x="9.3" dy="13.8">midst of needing</tspan><tspan x="9.3" dy="13.8">help. Somebody’s at</tspan><tspan x="9.3" dy="13.8">their most vulnerable</tspan></text><text class="a" x="9.3" y="104">Boyeon Kim</text></g>
<g id="s6-n06" transform="translate(704.5 2385.7)"><rect class="g" width="110" height="110"/><text class="t" y="19"><tspan x="9.3">Give out all of my</tspan><tspan x="9.3" dy="13.8">information before I</tspan><tspan x="9.3" dy="13.8">even get the help.</tspan></text><text class="a" x="9.3" y="98.6">Boyeon Kim</text></g>
<g id="s6-n07" transform="translate(844.5 2385.7)"><rect class="b" width="110" height="110"/><text class="t" y="19"><tspan x="9.3">Biggest challenge is</tspan><tspan x="9.3" dy="13.8">trying to encourage</tspan><tspan x="9.3" dy="13.8">myself is a good and</tspan><tspan x="9.3" dy="13.8">enough person for an</tspan><tspan x="9.3" dy="13.8">industry.</tspan></text><text class="a" x="9.3" y="98.6">Boyeon Kim</text></g>
<g id="s6-n08" transform="translate(984.5 2385.7)"><rect class="p" width="110" height="110"/><text class="t" y="19"><tspan x="9.3">The app eventually</tspan><tspan x="9.3" dy="13.8">lead users to</tspan><tspan x="9.3" dy="13.8">payment information.</tspan></text><text class="a" x="9.3" y="98.6">Boyeon Kim</text></g>
<g id="s6-n09" transform="translate(4.5 2529.3)"><rect class="v" width="110" height="110"/><text class="t" y="19"><tspan x="9.3">Repetitive day</tspan></text><text class="a" x="9.3" y="98.6">Boyeon Kim</text></g>
</svg>
